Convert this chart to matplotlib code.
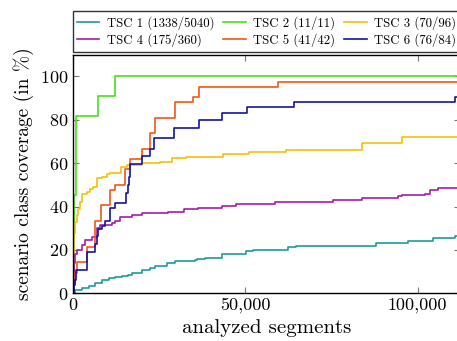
import matplotlib
matplotlib.use("Agg")
import matplotlib.pyplot as plt
from matplotlib.ticker import FuncFormatter

# police type LaTeX (Computer Modern fournie avec matplotlib)
plt.rcParams['font.family'] = ['cmr10', 'DejaVu Serif']
plt.rcParams['axes.formatter.use_mathtext'] = True

# Données (segments analysés, couverture en %)
tsc1_x = [0, 800, 2800, 4700, 6600, 8500, 10500, 12400, 14300, 16200, 17100, 20000, 22400,
          23900, 27300, 29700, 35500, 36000, 38400, 43200, 50400, 52300, 62500, 64900,
          88000, 97300, 104600, 110800, 112300]
tsc1_y = [0.2, 1.5, 2.3, 3.4, 4.6, 6.1, 6.9, 7.3, 7.9, 8.4, 9.5, 10.7, 11.5,
          12.6, 13.8, 14.9, 15.3, 15.8, 16.4, 18.1, 19.5, 20.0, 21.5, 21.9,
          23.0, 24.1, 25.3, 26.5, 26.5]

tsc2_x = [0, 50, 100, 200, 300, 400, 900, 7400, 12400, 112300]
tsc2_y = [0, 9.1, 18.2, 27.3, 36.4, 45.5, 81.8, 90.9, 100, 100]

tsc3_x = [0, 150, 300, 500, 800, 1200, 1700, 2200, 2700, 4100, 5200, 6000, 7000, 8500,
          9900, 10900, 14000, 15700, 20000, 25300, 28700, 33000, 43700, 51200, 62000,
          83800, 95400, 112300]
tsc3_y = [0, 10, 20, 28, 33, 36, 39, 42, 45.8, 46.8, 47.9, 49, 53, 53.7,
          55, 55.6, 58.4, 59.1, 59.9, 60.6, 62.2, 63, 64, 65.1, 66,
          69.1, 72.2, 72.2]

tsc4_x = [0, 200, 400, 700, 1300, 2800, 3700, 5600, 7200, 8000, 11400, 12400, 13800,
          17100, 20000, 27700, 32400, 36500, 43200, 47500, 58600, 75600, 83800, 94400,
          95500, 102100, 103600, 106000, 112300]
tsc4_y = [0, 8, 14, 18, 20, 22.3, 24.6, 26.1, 30, 31.5, 32.3, 33.3, 35.3,
          36.1, 36.9, 37.6, 38.7, 39.2, 40.2, 41.2, 42.1, 43.0, 44.1, 44.7,
          45.3, 45.8, 47.5, 48.3, 48.3]

tsc5_x = [0, 300, 700, 1200, 4100, 6500, 8400, 10900, 12300, 15200, 16600, 20000,
          22400, 23800, 29600, 35000, 36600, 59600, 112300]
tsc5_y = [0, 4.8, 9.5, 14.3, 21.4, 33.3, 40.5, 47.6, 50.0, 57.1, 61.9, 66.7,
          73.8, 81.0, 88.1, 90.5, 95.2, 97.6, 97.6]

tsc6_x = [0, 300, 700, 1000, 4100, 6500, 7000, 7500, 8500, 9500, 10900, 12300, 15500,
          16000, 16300, 16600, 20000, 22400, 23700, 29500, 36600, 43200, 50500, 64100,
          110900, 112300]
tsc6_y = [0, 3.6, 6.0, 10.7, 19.0, 22.6, 26.2, 29.8, 31.0, 33.3, 39.3, 41.7, 46.4,
          50.0, 53.6, 59.5, 63.1, 66.7, 71.4, 76.2, 79.8, 83.3, 85.7, 88.1,
          90.5, 90.5]

labels = ['TSC 1 (1338/5040)', 'TSC 2 (11/11)', 'TSC 3 (70/96)',
          'TSC 4 (175/360)', 'TSC 5 (41/42)', 'TSC 6 (76/84)']
colors = ['#1c9c9c', '#4ade1c', '#f0c20a', '#a41caa', '#f0561a', '#1414a0']

series = [(tsc1_x, tsc1_y), (tsc2_x, tsc2_y), (tsc3_x, tsc3_y),
          (tsc4_x, tsc4_y), (tsc5_x, tsc5_y), (tsc6_x, tsc6_y)]

fig = plt.figure(figsize=(4.57, 3.41), dpi=100)
ax = fig.add_axes([72.5 / 457, (341 - 293.3) / 341, (460 - 72.5) / 457, (293.3 - 54.6) / 341])

lines = []
for (xs, ys), lab, col in zip(series, labels, colors):
    ln, = ax.plot(xs, ys, drawstyle='steps-post', color=col, lw=1.2, label=lab)
    lines.append(ln)

ax.set_xlim(0, 112300)
ax.set_ylim(0, 110)
ax.set_xticks([0, 50000, 100000])
ax.set_yticks([0, 20, 40, 60, 80, 100])
ax.xaxis.set_major_formatter(FuncFormatter(lambda v, p: f'{int(v):,}'))
ax.tick_params(direction='in', top=True, right=True, length=4, width=0.8,
               color='#777777', labelsize=13, pad=3)
for s in ax.spines.values():
    s.set_linewidth(1.0)

ax.set_xlabel("analyzed segments", fontsize=15, labelpad=4)
ax.set_ylabel("scenario class coverage (in %)", fontsize=14, labelpad=4)

# légende remplie ligne par ligne (matplotlib remplit par colonnes)
order = [0, 3, 1, 4, 2, 5]
leg = ax.legend([lines[i] for i in order], [labels[i] for i in order],
                loc='lower left', bbox_to_anchor=(0, 1.012), ncol=3, fontsize=9.2,
                frameon=True, fancybox=False, edgecolor='#333333', framealpha=1,
                handlelength=1.75, handletextpad=0.6, columnspacing=0.7,
                borderaxespad=0, borderpad=0.35, labelspacing=0.3)
leg.get_frame().set_linewidth(1.0)

plt.savefig("out.png", dpi=100)
